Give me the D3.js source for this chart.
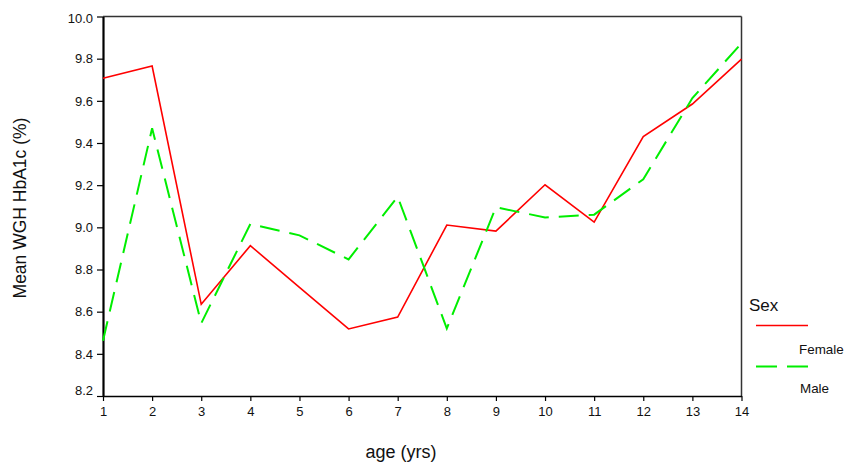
<!DOCTYPE html>
<html><head><meta charset="utf-8">
<script src="https://cdn.jsdelivr.net/npm/d3@7"></script>
<style>body{margin:0;background:#fff}svg{display:block}text{font-family:"Liberation Sans",Arial,sans-serif}</style>
</head><body>
<svg id="c" width="845" height="466"></svg>
<script>
const ages = [1,2,3,4,5,6,7,8,9,10,11,12,13,14];
const female = [9.707,9.765,8.635,8.913,8.715,8.518,8.574,9.011,8.982,9.202,9.025,9.43,9.585,9.798];
const male = [8.462,9.47,8.545,9.016,8.962,8.848,9.145,8.52,9.095,9.047,9.06,9.228,9.613,9.873];
const yTicks = [8.2,8.4,8.6,8.8,9.0,9.2,9.4,9.6,9.8,10.0];
const seriesNames = ["Female","Male"];
const colors = ["#ff0000","#00ee00"];

const svg = d3.select("#c");
const L=103, R=741.5, T=16.5, B=396;
const x = d3.scaleLinear().domain([1,14]).range([L,R]);
const y = d3.scaleLinear().domain([8.2,10.0]).range([B,T]);

// top & right border
svg.append("line").attr("x1",L).attr("x2",R).attr("y1",T).attr("y2",T).attr("stroke","#333").attr("stroke-width",1.5);
svg.append("line").attr("x1",R).attr("x2",R).attr("y1",T).attr("y2",B).attr("stroke","#333").attr("stroke-width",1.5);

// x axis
const gx = svg.append("g").attr("transform",`translate(0,${B})`)
  .call(d3.axisBottom(x).tickValues(ages).tickFormat(d3.format("d")).tickSize(5).tickSizeOuter(0));
gx.select(".domain").attr("stroke","#000").attr("stroke-width",1.5);
gx.selectAll(".tick line").attr("stroke","#000").attr("stroke-width",1.2);
gx.selectAll(".tick text").attr("font-size",13).attr("fill","#111").attr("dy","0.9em")
  .attr("font-family","Liberation Sans, Arial, sans-serif");

// y axis
const gy = svg.append("g").attr("transform",`translate(${L},0)`)
  .call(d3.axisLeft(y).tickValues(yTicks).tickFormat(d3.format(".1f")).tickSize(6).tickSizeOuter(0));
gy.select(".domain").attr("stroke","#000").attr("stroke-width",2.2);
gy.selectAll(".tick line").attr("stroke","#000").attr("stroke-width",1.2);
gy.selectAll(".tick text").attr("font-size",13).attr("fill","#111").attr("x",-10)
  .attr("font-family","Liberation Sans, Arial, sans-serif")
  .attr("dy",d=> d===8.2 ? "-0.15em" : (d===10.0 ? "0.45em" : "0.32em"));

// lines
const line = d3.line().x((d,i)=>x(ages[i])).y(d=>y(d));
svg.append("path").datum(female).attr("d",line).attr("fill","none").attr("stroke",colors[0]).attr("stroke-width",1.6);
svg.append("path").datum(male).attr("d",line).attr("fill","none").attr("stroke",colors[1]).attr("stroke-width",2).attr("stroke-dasharray","20,10");

// axis titles
svg.append("text").attr("x",401).attr("y",458).attr("text-anchor","middle").attr("font-size",18).attr("fill","#111").text("age (yrs)");
svg.append("text").attr("transform",`translate(26,208) rotate(-90)`).attr("text-anchor","middle").attr("font-size",17.5).attr("fill","#111").text("Mean WGH HbA1c (%)");

// legend
svg.append("text").attr("x",749).attr("y",311).attr("font-size",17).attr("fill","#111").text("Sex");
svg.append("line").attr("x1",756).attr("x2",808).attr("y1",325.5).attr("y2",325.5).attr("stroke",colors[0]).attr("stroke-width",1.6);
svg.append("text").attr("x",799).attr("y",354).attr("font-size",13.4).attr("fill","#111").text(seriesNames[0]);
svg.append("line").attr("x1",756).attr("x2",808).attr("y1",366.5).attr("y2",366.5).attr("stroke",colors[1]).attr("stroke-width",2).attr("stroke-dasharray","21,10");
svg.append("text").attr("x",800).attr("y",393).attr("font-size",13.4).attr("fill","#111").text(seriesNames[1]);
</script>
</body></html>
